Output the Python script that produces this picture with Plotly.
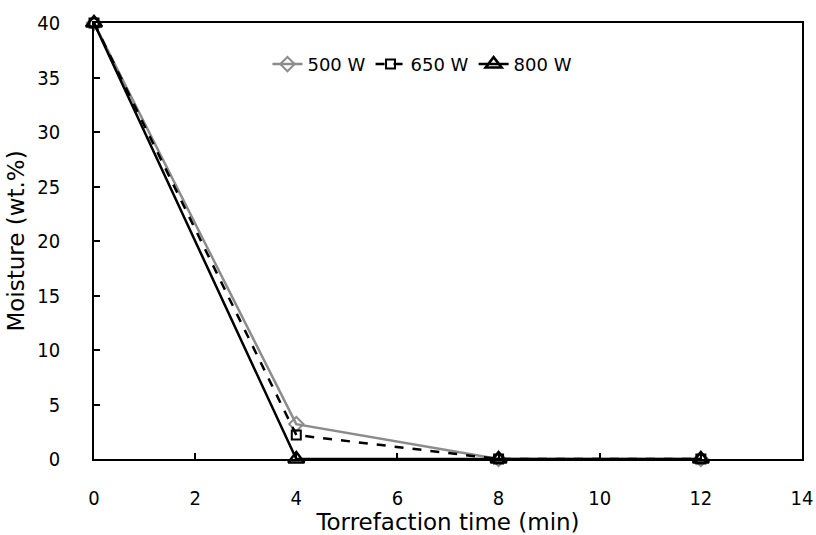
import plotly.graph_objects as go

time_min = [0, 4, 8, 12]
m500 = [40, 3.2, 0, 0]
m650 = [40, 2.2, 0, 0]
m800 = [40, 0, 0, 0]

TICKFONT = "DejaVu Sans Condensed, Liberation Sans Narrow, Noto Sans"
TITLEFONT = "DejaVu Sans, Noto Sans"

fig = go.Figure()
fig.add_trace(go.Scatter(x=time_min, y=m500, name="500 W", mode="lines+markers", cliponaxis=False,
                         line=dict(color="#8c8c8c", width=2.5),
                         marker=dict(symbol="diamond-open", size=11, color="#8c8c8c", line=dict(width=2))))
fig.add_trace(go.Scatter(x=time_min, y=m650, name="650 W", mode="lines+markers", cliponaxis=False,
                         line=dict(color="black", width=2.5, dash="dash"),
                         marker=dict(symbol="square-open", size=9, color="black", line=dict(width=2))))
fig.add_trace(go.Scatter(x=time_min, y=m800, name="800 W", mode="lines+markers", cliponaxis=False,
                         line=dict(color="black", width=2.5),
                         marker=dict(symbol="triangle-up-open", size=14, color="black", line=dict(width=2.5))))

fig.update_layout(
    width=816, height=535,
    margin=dict(l=94, r=14, t=23, b=76, autoexpand=False),
    paper_bgcolor="white", plot_bgcolor="white",
    font=dict(family=TICKFONT, color="black", size=18),
    showlegend=True,
    legend=dict(orientation="h", x=0.245, y=0.905, xanchor="left", yanchor="middle",
                font=dict(size=18, family=TITLEFONT), bgcolor="rgba(0,0,0,0)", itemwidth=30),
    xaxis=dict(range=[0, 14], dtick=2, showgrid=False, zeroline=False,
               showline=True, linecolor="black", linewidth=1.5, mirror=True,
               ticks="inside", ticklen=6, tickcolor="black", tickwidth=1.5,
               ticklabelstandoff=20,
               title=dict(text="Torrefaction time (min)", font=dict(size=23, family=TITLEFONT), standoff=5),
               tickfont=dict(size=20)),
    yaxis=dict(range=[0, 40], dtick=5, showgrid=False, zeroline=False,
               showline=True, linecolor="black", linewidth=1.5, mirror=True,
               ticks="inside", ticklen=6, tickcolor="black", tickwidth=1.5,
               ticklabelstandoff=28,
               title=dict(text="Moisture (wt.%)", font=dict(size=23, family=TITLEFONT), standoff=6),
               tickfont=dict(size=20)),
)

fig.write_html("out.html", config={"displayModeBar": False},
               post_script="document.body.style.margin='0px';")
